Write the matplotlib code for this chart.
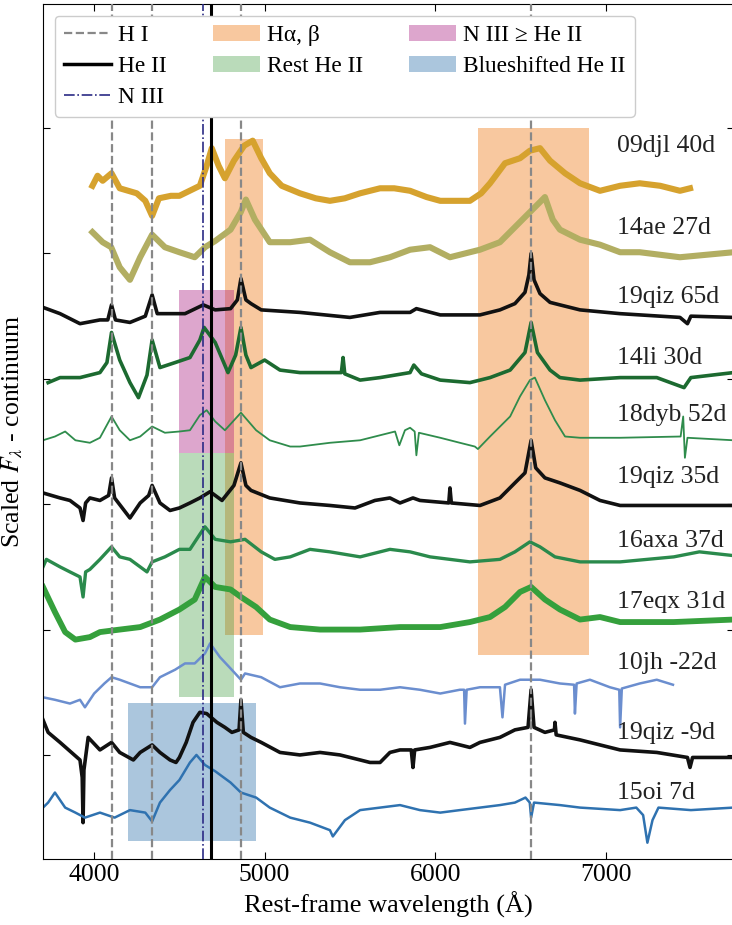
import numpy as np
import matplotlib
matplotlib.use('Agg')
import matplotlib.pyplot as plt
from matplotlib.lines import Line2D
from matplotlib.patches import Patch, Rectangle

plt.rcParams['font.family'] = ['Liberation Serif', 'DejaVu Serif']
plt.rcParams['mathtext.fontset'] = 'stix'
plt.rcParams['font.size'] = 18.5

# --- spectra (rest wavelength in A, scaled flux - continuum) ---
names = ['09djl 40d', '14ae 27d', '19qiz 65d', '14li 30d', '18dyb 52d', '19qiz 35d',
         '16axa 37d', '17eqx 31d', '10jh -22d', '19qiz -9d', '15oi 7d']
offsets = [45.0, 40.3, 35.3, 30.3, 25.3, 20.3, 15.6, 10.4, 5.4, 0.4, -4.4]
label_y = [48.6, 42.0, 36.5, 31.7, 27.1, 22.2, 17.1, 12.2, 7.3, 1.75, -3.0]

wave_09djl = [3990, 4020, 4050, 4102, 4150, 4200, 4250, 4300, 4340, 4380, 4450, 4500, 4560, 4620,
              4660, 4690, 4730, 4767, 4820, 4880, 4930, 4980, 5030, 5100, 5207, 5300, 5383, 5470,
              5560, 5677, 5760, 5853, 5950, 6030, 6120, 6204, 6270, 6322, 6410, 6498, 6556, 6615,
              6674, 6762, 6850, 6967, 7085, 7200, 7320, 7436, 7495]
flux_09djl = [0.4, 1.2, 0.8, 1.4, 0.2, 0.0, -0.2, -0.8, -2.0, -0.6, -0.4, -0.4, 0.0, 0.4,
              2.0, 3.4, 2.0, 1.0, 2.4, 3.6, 4.0, 2.6, 1.4, 0.4, -0.2, -0.6, -0.8, -0.6,
              -0.2, 0.2, 0.2, 0.0, -0.5, -0.8, -0.8, -0.8, -0.2, 0.6, 2.2, 2.6, 3.2, 3.4,
              2.4, 1.4, 0.6, 0.0, 0.4, 0.6, 0.4, 0.0, 0.2]

wave_14ae = [3990, 4050, 4100, 4150, 4210, 4270, 4340, 4415, 4500, 4590, 4650, 4710, 4800, 4860,
             4890, 4943, 5030, 5150, 5266, 5383, 5500, 5618, 5735, 5853, 5970, 6087, 6204, 6263,
             6380, 6468, 6556, 6615, 6644, 6690, 6732, 6850, 6967, 7085, 7200, 7436, 7750]
flux_14ae = [1.4, 0.6, 0.2, -1.4, -2.4, -0.6, 1.2, 0.2, -0.2, -0.6, 0.2, 0.7, 1.6, 3.0,
             4.0, 2.4, 0.6, 0.6, 0.8, -0.2, -1.0, -1.0, -0.6, 0.0, 0.2, -0.6, -0.2, 0.0,
             0.6, 1.8, 3.0, 3.8, 4.2, 2.4, 1.6, 0.8, 0.4, -0.2, -0.2, -0.6, -0.2]

wave_19qiz65 = [3700, 3800, 3917, 4034, 4080, 4102, 4125, 4210, 4300, 4340, 4370, 4445, 4533,
                4640, 4710, 4800, 4840, 4861, 4890, 4920, 4980, 5207, 5500, 5677, 5853, 5890,
                6030, 6263, 6380, 6468, 6527, 6550, 6563, 6580, 6615, 6674, 6732, 6850, 7085,
                7436, 7480, 7500, 7750]
flux_19qiz65 = [0.4, -0.1, -0.9, -0.6, -0.6, 0.6, -0.6, -0.8, -0.3, 1.4, -0.1, -0.1, -0.1,
                0.6, 0.2, 0.3, 1.0, 2.7, 1.0, 0.7, 0.2, 0.0, -0.4, 0.0, 0.0, 0.3,
                -0.2, -0.2, 0.2, 0.7, 1.6, 3.0, 4.7, 2.6, 1.5, 0.8, 0.6, 0.2, -0.1,
                -0.4, -0.9, -0.3, -0.4]

wave_14li = [3730, 3800, 3917, 4034, 4075, 4102, 4150, 4210, 4260, 4310, 4340, 4386, 4475, 4562,
             4620, 4645, 4710, 4785, 4830, 4861, 4890, 4920, 5000, 5090, 5207, 5383, 5450, 5460,
             5470, 5560, 5677, 5853, 5875, 5920, 6030, 6204, 6322, 6440, 6527, 6563, 6600, 6674,
             6732, 6850, 7085, 7300, 7460, 7500, 7750]
flux_14li = [-0.6, -0.2, -0.2, 0.2, 1.0, 3.4, 1.2, -0.6, -1.8, 0.0, 2.8, 0.6, 1.0, 1.4,
             2.8, 3.8, 2.6, 0.2, 1.6, 3.8, 1.6, 0.6, 1.2, 0.4, 0.2, 0.2, 0.2, 1.4,
             0.1, -0.4, -0.2, 0.2, 0.8, 0.1, -0.4, -0.6, -0.2, 0.4, 1.8, 4.2, 1.8, 0.4,
             -0.2, -0.4, -0.2, -0.2, -1.0, -0.2, 0.2]

wave_18dyb = [3700, 3770, 3830, 3890, 3975, 4034, 4102, 4150, 4210, 4270, 4340, 4415, 4500, 4562,
              4620, 4660, 4710, 4767, 4861, 4950, 5030, 5150, 5207, 5383, 5560, 5677, 5765, 5790,
              5823, 5853, 5880, 5890, 5905, 6030, 6145, 6233, 6251, 6322, 6440, 6498, 6556, 6585,
              6644, 6703, 6762, 6850, 7085, 7440, 7455, 7465, 7480, 7750]
flux_18dyb = [-0.2, 0.1, 0.5, -0.2, -0.4, 0.0, 1.7, 0.6, -0.2, 0.1, 0.9, 0.4, 0.5, 0.6,
              1.8, 2.2, 1.3, 0.6, 2.0, 0.6, -0.2, -0.7, -0.7, -0.4, -0.2, 0.2, 0.5, -0.6,
              0.6, 0.8, 0.5, -1.4, 0.4, 0.0, -0.4, -0.7, -0.9, 0.1, 1.7, 3.3, 4.6, 4.8,
              3.0, 1.4, 0.1, 0.0, 0.0, 0.1, 1.7, -1.6, 0.0, -0.2]

wave_19qiz35 = [3700, 3800, 3858, 3917, 3935, 3950, 3975, 4034, 4085, 4102, 4120, 4210, 4270, 4320,
                4340, 4386, 4445, 4500, 4562, 4620, 4680, 4750, 4820, 4861, 4890, 4920, 5030, 5207,
                5383, 5530, 5647, 5735, 5794, 5870, 5911, 6080, 6087, 6095, 6263, 6380, 6468, 6527,
                6563, 6590, 6644, 6732, 6850, 6967, 7085, 7400, 7750]
flux_19qiz35 = [0.6, 0.2, 0.0, -0.6, -1.6, -0.2, 0.2, 0.0, 0.4, 1.8, 0.2, -1.4, -0.2, 0.4,
                1.2, -0.2, -0.8, -0.6, -0.2, 0.2, 0.7, 0.0, 1.2, 3.0, 1.2, 0.8, 0.2, -0.2,
                -0.4, -0.6, 0.0, 0.2, -0.2, 0.2, 0.0, -0.2, 1.0, -0.2, -0.4, 0.2, 1.4, 2.2,
                4.8, 2.6, 1.8, 1.4, 0.8, 0.0, -0.4, -0.4, -0.4]

wave_16axa = [3700, 3720, 3800, 3858, 3917, 3935, 3950, 3975, 4034, 4102, 4150, 4210, 4270, 4310,
              4340, 4415, 4500, 4562, 4620, 4650, 4710, 4800, 4885, 4980, 5060, 5150, 5266, 5383,
              5560, 5735, 5853, 5970, 6087, 6204, 6380, 6468, 6556, 6615, 6703, 6850, 7085, 7400,
              7550, 7750]
flux_16axa = [-0.6, 0.0, -0.6, -1.0, -1.4, -3.0, -1.0, -0.8, 0.0, 1.0, 0.2, 0.0, -0.6, -1.0,
              -0.2, 0.2, 0.8, 0.8, 2.0, 2.6, 1.6, 1.4, 1.6, 0.6, 0.0, 0.2, 0.8, 0.6,
              0.2, 0.8, 0.6, 0.2, 0.0, -0.2, 0.0, 0.6, 1.4, 1.0, 0.2, -0.2, -0.2, 0.2,
              0.6, 0.3]

wave_17eqx = [3700, 3770, 3830, 3890, 3975, 4034, 4150, 4270, 4386, 4500, 4590, 4650, 4710, 4800,
              4861, 4950, 5030, 5150, 5325, 5560, 5794, 6030, 6204, 6322, 6410, 6498, 6563, 6644,
              6732, 6850, 6967, 7085, 7400, 7750]
flux_17eqx = [3.0, 1.0, -0.6, -1.2, -1.0, -0.6, -0.4, -0.2, 0.4, 1.2, 2.0, 3.8, 3.0, 2.8,
              2.2, 1.4, 0.4, -0.2, -0.4, -0.4, -0.2, -0.2, 0.2, 0.6, 1.4, 2.6, 3.0, 2.0,
              1.2, 0.4, 0.6, 0.2, 0.2, 0.4]

wave_10jh = [3700, 3770, 3858, 3917, 3946, 4000, 4060, 4102, 4150, 4210, 4270, 4340, 4386, 4475,
             4533, 4590, 4650, 4680, 4738, 4800, 4861, 4885, 4980, 5090, 5207, 5325, 5442, 5560,
             5677, 5794, 5911, 6030, 6145, 6170, 6175, 6185, 6263, 6380, 6395, 6410, 6498, 6615,
             6732, 6815, 6820, 6830, 6908, 7025, 7080, 7085, 7095, 7200, 7300, 7395]
flux_10jh = [-0.8, -1.0, -1.3, -1.0, -1.6, -0.5, 0.3, 0.8, 0.6, 0.3, 0.0, 0.0, 0.8, 1.4,
             1.9, 1.9, 2.7, 3.5, 2.4, 1.5, 0.6, 1.1, 0.8, 0.0, 0.3, 0.3, 0.0, -0.2,
             -0.2, 0.0, -0.2, -0.5, -0.2, -0.2, -2.9, -0.2, 0.0, 0.0, -2.4, 0.2, 0.6, 0.6,
             0.3, 0.2, -2.1, 0.3, 0.6, 0.0, -0.2, -3.2, -0.1, 0.3, 0.6, 0.2]

wave_19qiz9 = [3700, 3730, 3800, 3917, 3930, 3935, 3940, 3965, 4034, 4102, 4150, 4230, 4270, 4340,
               4386, 4445, 4480, 4500, 4540, 4580, 4620, 4660, 4720, 4767, 4808, 4850, 4861, 4875,
               4920, 4980, 5090, 5207, 5325, 5442, 5560, 5618, 5677, 5735, 5794, 5860, 5870, 5880,
               5970, 6087, 6204, 6263, 6380, 6468, 6545, 6563, 6580, 6644, 6700, 6703, 6710, 6850,
               6967, 7085, 7300, 7480, 7495, 7510, 7750]
flux_19qiz9 = [2.4, 1.4, 0.6, -0.8, -2.2, -5.8, -1.6, 1.0, 0.0, 0.6, -0.2, -0.8, -0.2, 0.4,
               -0.2, -0.8, -1.0, -0.6, 0.6, 2.2, 3.0, 2.9, 2.2, 1.8, 1.4, 1.6, 4.0, 1.4,
               1.0, 0.6, -0.2, -0.4, -0.2, -0.4, -0.8, -1.0, -1.0, -0.2, 0.0, 0.0, -1.4, 0.0,
               0.2, 0.6, 0.2, 0.6, 1.0, 1.6, 1.8, 4.8, 1.8, 1.4, 1.6, 2.2, 1.2, 0.8,
               0.4, 0.0, -0.2, -0.6, -1.4, -0.6, -0.6]

wave_15oi = [3700, 3730, 3770, 3830, 3890, 3946, 4034, 4120, 4210, 4300, 4340, 4386, 4445, 4500,
             4562, 4600, 4650, 4710, 4800, 4861, 4950, 5030, 5150, 5266, 5383, 5400, 5471, 5560,
             5677, 5794, 5911, 6030, 6145, 6263, 6380, 6468, 6530, 6555, 6563, 6580, 6732, 6850,
             7085, 7180, 7220, 7245, 7275, 7310, 7500, 7750]
flux_15oi = [0.2, 0.6, 1.4, 0.2, -0.2, -0.6, -0.2, -0.6, 0.0, -0.2, -0.9, 0.6, 1.6, 2.4,
             3.8, 4.4, 3.6, 3.1, 2.2, 1.4, 1.0, 0.2, -0.6, -1.0, -1.6, -2.1, -0.8, 0.0,
             0.2, 0.4, 0.0, -0.2, 0.0, 0.2, 0.4, 0.6, 1.0, 0.6, -0.6, 0.6, 0.4, 0.2,
             0.0, 0.2, -0.4, -2.6, -0.8, 0.2, 0.0, 0.2]

waves = [wave_09djl, wave_14ae, wave_19qiz65, wave_14li, wave_18dyb, wave_19qiz35,
         wave_16axa, wave_17eqx, wave_10jh, wave_19qiz9, wave_15oi]
fluxes = [flux_09djl, flux_14ae, flux_19qiz65, flux_14li, flux_18dyb, flux_19qiz35,
          flux_16axa, flux_17eqx, flux_10jh, flux_19qiz9, flux_15oi]
colors = ['#d6a22e', '#b2ae62', '#111111', '#1c6a30', '#2f8c4c', '#111111',
          '#2a8a4c', '#35a03c', '#6b8ecf', '#111111', '#2f72b0']
widths = [4.4, 4.4, 2.6, 2.6, 1.3, 2.6, 2.4, 4.2, 1.8, 2.6, 1.8]

# line identifications
hi_lines = [4102, 4340, 4861, 6563]
heii_line = 4686
niii_line = 4640

# shaded regions: (wave_lo, wave_hi, y_lo, y_hi)
halpha_beta_regions = [(4770, 4990, 9.6, 49.1), (6250, 6900, 8.0, 50.0)]
niii_region = (4495, 4820, 24.1, 37.1)
rest_heii_region = (4495, 4820, 4.6, 24.1)
blue_heii_region = (4200, 4950, -6.9, 4.15)

c_orange, a_orange = '#f4a460', 0.6
c_pink, a_pink = '#a8157d', 0.38
c_green, a_green = '#3a9a3a', 0.35
c_blue, a_blue = '#4682b4', 0.45

fig = plt.figure(figsize=(7.32, 9.25), dpi=100)
ax = fig.add_axes([43 / 732, 66 / 925, 691 / 732, 855 / 925])


def add_box(reg, color, alpha):
    x0, x1, y0, y1 = reg
    ax.add_patch(Rectangle((x0, y0), x1 - x0, y1 - y0, facecolor=color, alpha=alpha,
                           edgecolor='none', zorder=1))


for reg in halpha_beta_regions:
    add_box(reg, c_orange, a_orange)
add_box(niii_region, c_pink, a_pink)
add_box(rest_heii_region, c_green, a_green)
add_box(blue_heii_region, c_blue, a_blue)

for w, f, off, c, lw in zip(waves, fluxes, offsets, colors, widths):
    ax.plot(w, np.array(f) + off, color=c, lw=lw, zorder=2)

for name, y in zip(names, label_y):
    ax.text(7065, y, name, ha='left', va='center', fontsize=18.5, color='#222222', zorder=5)

for lam in hi_lines:
    ax.axvline(lam, color='#888888', ls='--', lw=1.6, zorder=3)
ax.axvline(niii_line, color='#2b2b85', ls='-.', lw=1.2, zorder=3)
ax.axvline(heii_line, color='black', ls='-', lw=2.2, zorder=3)

handles = [
    Line2D([], [], color='#888888', ls='--', lw=1.6, label='H I'),
    Line2D([], [], color='black', ls='-', lw=2.5, label='He II'),
    Line2D([], [], color='#2b2b85', ls='-.', lw=1.2, label='N III'),
    Patch(facecolor=c_orange, alpha=a_orange, label='H\u03b1, \u03b2'),
    Patch(facecolor=c_green, alpha=a_green, label='Rest He II'),
    Patch(facecolor=c_pink, alpha=a_pink, label='N III \u2265 He II'),
    Patch(facecolor=c_blue, alpha=a_blue, label='Blueshifted He II'),
]
leg = ax.legend(handles=handles, ncol=3, loc='upper left', fontsize=16.8,
                framealpha=1, edgecolor='#cccccc', labelspacing=0.4,
                handletextpad=0.3, columnspacing=2.0, borderpad=0.4)
leg.set_zorder(10)

ax.set_xlim(3700, 7753)
ax.set_ylim(-8.3, 59.9)
ax.set_xticks([4000, 5000, 6000, 7000])
ax.set_yticks(np.arange(0, 60, 10))
ax.set_yticklabels([])
ax.tick_params(direction='in', top=True, right=True, length=5, labelsize=18.5)
ax.set_xlabel('Rest-frame wavelength (\u00c5)', fontsize=19)
ax.set_ylabel(r'Scaled $F_{\lambda}$ - continuum', fontsize=18.5)
ax.yaxis.set_label_coords(-0.026, 0.5)

fig.savefig('out.png', dpi=100)
